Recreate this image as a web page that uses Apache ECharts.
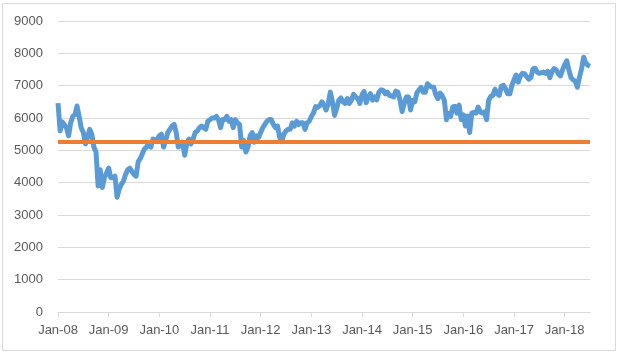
<!DOCTYPE html>
<html>
<head>
<meta charset="utf-8">
<script src="https://cdn.jsdelivr.net/npm/echarts@6/dist/echarts.min.js"></script>
<style>
    html, body { margin: 0; padding: 0; background: #fff; }
    #chart { width: 622px; height: 354px; }
</style>
</head>
<body>
<div id="chart"></div>
<script>
    // index values, twice a month (1st and 16th)
    var y2008 = [6460, 5600, 5880, 5790, 5700, 5450, 5850, 6050, 6100, 6370, 6050, 5700, 5550, 5200, 5400, 5650, 5500, 5100, 4950, 3900, 4400, 3850, 4150, 4300];
    var y2009 = [4450, 4150, 4150, 4200, 3550, 3800, 3950, 4050, 4250, 4400, 4450, 4350, 4250, 4200, 4650, 4750, 4900, 5050, 5100, 5250, 5100, 5350, 5300, 5350];
    var y2010 = [5450, 5500, 5100, 5300, 5550, 5650, 5750, 5800, 5550, 5100, 5150, 5250, 4850, 5200, 5350, 5200, 5350, 5550, 5600, 5700, 5750, 5700, 5650, 5900];
    var y2011 = [5950, 6000, 6000, 6050, 5950, 5700, 5950, 5950, 6050, 5900, 5950, 5700, 5950, 5850, 5800, 5100, 5300, 4950, 5100, 5450, 5550, 5250, 5450, 5400];
    var y2012 = [5550, 5700, 5800, 5900, 5950, 5950, 5800, 5700, 5750, 5400, 5270, 5500, 5600, 5650, 5650, 5850, 5750, 5900, 5800, 5850, 5850, 5650, 5850, 5900];
    var y2013 = [6050, 6150, 6350, 6330, 6380, 6500, 6400, 6250, 6450, 6800, 6500, 6080, 6300, 6550, 6620, 6500, 6450, 6600, 6450, 6550, 6730, 6650, 6600, 6450];
    var y2014 = [6720, 6820, 6470, 6660, 6750, 6550, 6650, 6560, 6800, 6870, 6860, 6750, 6800, 6700, 6680, 6650, 6830, 6800, 6560, 6200, 6450, 6650, 6650, 6250];
    var y2015 = [6550, 6500, 6780, 6870, 6950, 6800, 6800, 7060, 6990, 6960, 6950, 6710, 6600, 6770, 6690, 6550, 5950, 6140, 6050, 6340, 6360, 6150, 6400, 5950];
    var y2016 = [6100, 5750, 6060, 5550, 6150, 6170, 6150, 6340, 6190, 6150, 6190, 5950, 6550, 6670, 6700, 6890, 6750, 6700, 6980, 7010, 6900, 6750, 6750, 7000];
    var y2017 = [7180, 7330, 7110, 7300, 7380, 7370, 7280, 7200, 7250, 7520, 7540, 7420, 7380, 7400, 7420, 7380, 7440, 7250, 7440, 7530, 7490, 7370, 7300, 7490];
    var y2018 = [7650, 7770, 7490, 7250, 7180, 7140, 6950, 7260, 7520, 7880, 7700, 7630, 7600];

    var years = [2008, 2009, 2010, 2011, 2012, 2013, 2014, 2015, 2016, 2017, 2018];
    var yearValues = [y2008, y2009, y2010, y2011, y2012, y2013, y2014, y2015, y2016, y2017, y2018];
    var tickLabels = ['Jan-08', 'Jan-09', 'Jan-10', 'Jan-11', 'Jan-12', 'Jan-13', 'Jan-14', 'Jan-15', 'Jan-16', 'Jan-17', 'Jan-18'];
    var threshold = 5260;

    var dates = [];
    var values = [];
    for (var i = 0; i < years.length; i++) {
        for (var j = 0; j < yearValues[i].length; j++) {
            var month = Math.floor(j / 2) + 1;
            dates.push(years[i] + '-' + (month < 10 ? '0' : '') + month + (j % 2 ? '-16' : '-01'));
            values.push(yearValues[i][j]);
        }
    }

    var fontFamily = "'Liberation Sans', Arial, sans-serif";
    var chart = echarts.init(document.getElementById('chart'));
    var option = {
        animation: false,
        backgroundColor: '#fff',
        graphic: [{
            type: 'rect',
            shape: { x: 2.5, y: 3.5, width: 613, height: 347 },
            style: { fill: 'none', stroke: '#d9d9d9', lineWidth: 1 },
            silent: true
        }],
        grid: { left: 58, right: 32, top: 21, bottom: 42 },
        xAxis: {
            type: 'category',
            data: dates,
            boundaryGap: false,
            axisLine: { lineStyle: { color: '#d9d9d9', width: 1 } },
            axisTick: {
                show: true,
                length: 5,
                lineStyle: { color: '#d9d9d9' },
                interval: function (index) { return index % 24 === 0; }
            },
            axisLabel: {
                color: '#595959',
                fontSize: 13,
                fontFamily: fontFamily,
                margin: 12,
                interval: function (index) { return index % 24 === 0; },
                formatter: function (value, index) { return tickLabels[index / 24]; }
            },
            splitLine: { show: false }
        },
        yAxis: {
            type: 'value',
            min: 0,
            max: 9000,
            interval: 1000,
            axisLine: { show: false },
            axisTick: { show: false },
            axisLabel: {
                color: '#595959',
                fontSize: 13,
                fontFamily: fontFamily,
                margin: 15,
                formatter: function (value) { return String(value); }
            },
            splitLine: { lineStyle: { color: '#d9d9d9', width: 1 } }
        },
        series: [{
            name: 'Index',
            type: 'line',
            data: values,
            showSymbol: false,
            symbol: 'none',
            lineStyle: { color: '#5b9bd5', width: 5, join: 'round' },
            markLine: {
                silent: true,
                symbol: 'none',
                label: { show: false },
                lineStyle: { color: '#ed7d31', width: 4, type: 'solid' },
                data: [{ yAxis: threshold }]
            }
        }]
    };
    chart.setOption(option);
</script>
</body>
</html>
